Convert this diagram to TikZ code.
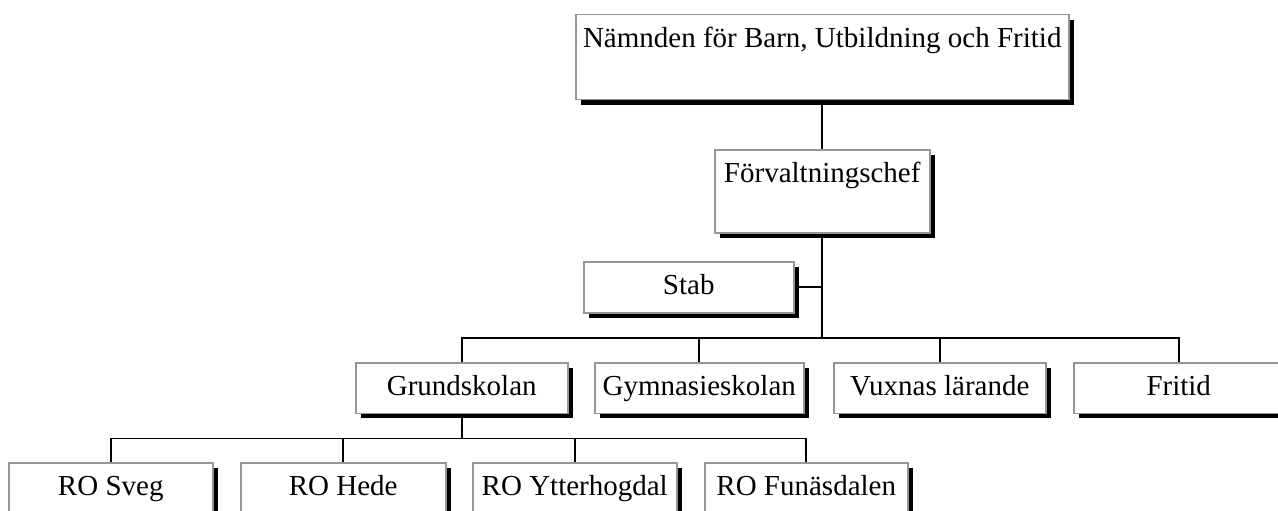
\documentclass[tikz,border=0pt]{standalone}
\usepackage{fontspec}
\setmainfont{Liberation Serif}
\usetikzlibrary{shadows}
\definecolor{boxline}{RGB}{150,150,150}
\tikzset{
  orgbox/.style={draw=boxline, line width=1.5pt, fill=white, inner xsep=0pt, inner ysep=0pt,
    text height=32.5pt, anchor=north west, align=center,
    font=\fontsize{29}{33}\selectfont,
    general shadow={fill=black, shadow xshift=5pt, shadow yshift=-5pt}},
  conn/.style={draw=black, line width=1.6pt}
}
\begin{document}
\begin{tikzpicture}[x=1pt,y=-1pt]
\useasboundingbox (0,0) rectangle (1278,511);
\clip (0,0) rectangle (1278,511);
% boxes
\node[orgbox, minimum width=493pt, text depth=52.5pt] (top) at (575,14) {Nämnden för Barn, Utbildning och Fritid};
\node[orgbox, minimum width=215pt, text depth=50.5pt] (forv) at (714,149) {Förvaltningschef};
\node[orgbox, minimum width=210pt, text depth=18.5pt] (stab) at (583,261) {Stab};
\node[orgbox, minimum width=212pt, text depth=18pt] (grund) at (355,362) {Grundskolan};
\node[orgbox, minimum width=209pt, text depth=18pt] (gym) at (594,362) {Gymnasieskolan};
\node[orgbox, minimum width=212pt, text depth=18pt] (vux) at (833,362) {Vuxnas lärande};
\node[orgbox, minimum width=210pt, text depth=18pt] (frit) at (1073,362) {Fritid};
\node[orgbox, minimum width=204pt, text depth=18.5pt] (sveg) at (8,462) {RO Sveg};
\node[orgbox, minimum width=205pt, text depth=18.5pt] (hede) at (240,462) {RO Hede};
\node[orgbox, minimum width=204pt, text depth=18.5pt] (ytter) at (472,462) {RO Ytterhogdal};
\node[orgbox, minimum width=203pt, text depth=18.5pt] (fun) at (704,462) {RO Funäsdalen};
% hubs
\coordinate (hub) at (821.5,338);
\coordinate (bhub) at (461,438.5);
% connectors
\draw[conn] (top.south) -- (forv.north);
\draw[conn] (forv.south) -- (forv.south |- hub);
\draw[conn] (stab.east) -- (stab.east -| forv.south);
\draw[conn] (grund.north) -- (grund.north |- hub) -- (frit.north |- hub) -- (frit.north);
\draw[conn] (gym.north) -- (gym.north |- hub);
\draw[conn] (vux.north) -- (vux.north |- hub);
\draw[conn] (grund.south) -- (grund.south |- bhub);
\draw[conn] (sveg.north) -- (sveg.north |- bhub) -- (fun.north |- bhub) -- (fun.north);
\draw[conn] (hede.north) -- (hede.north |- bhub);
\draw[conn] (ytter.north) -- (ytter.north |- bhub);
\end{tikzpicture}
\end{document}
